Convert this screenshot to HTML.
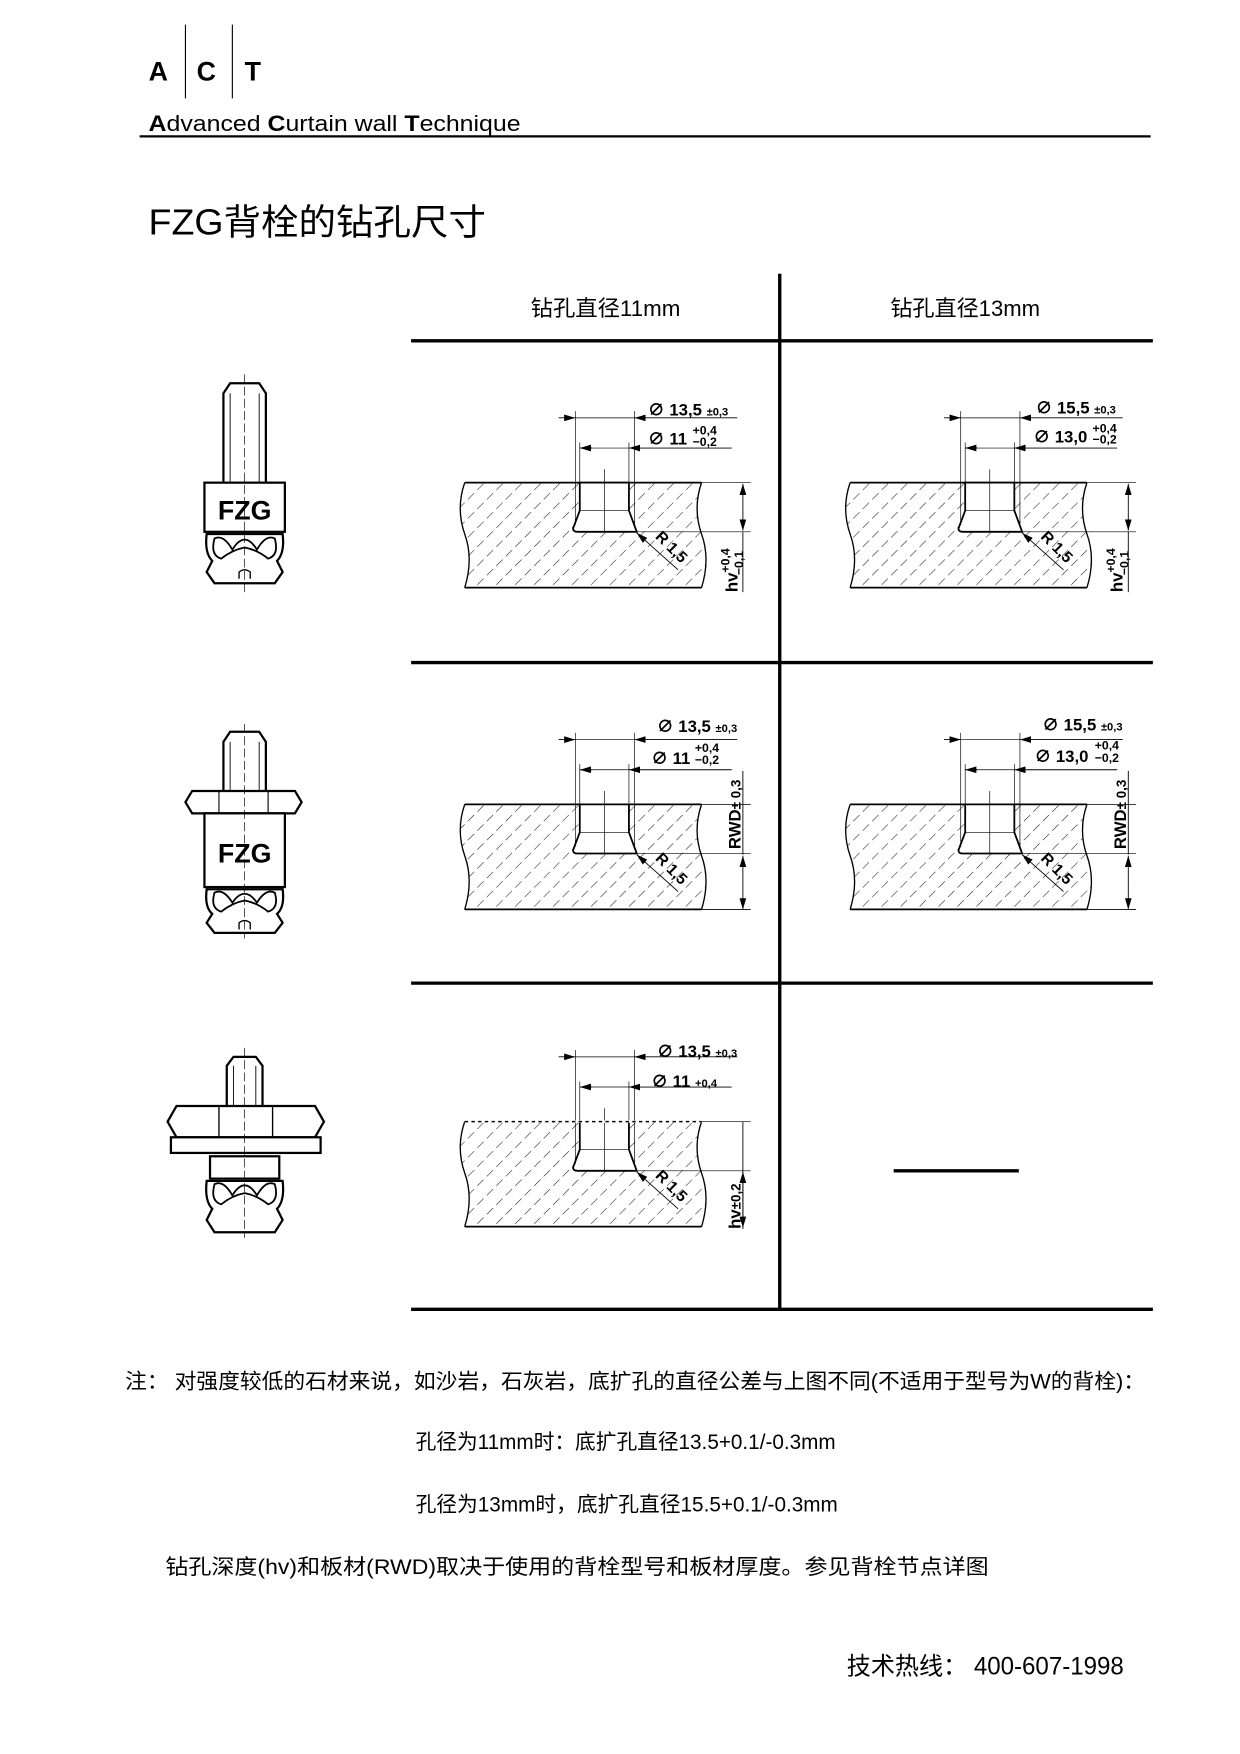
<!DOCTYPE html>
<html><head><meta charset="utf-8"><style>
html,body{margin:0;padding:0;background:#fff;}
svg{display:block;}
text{font-family:"Liberation Sans","Noto Sans CJK SC",sans-serif;}
</style></head><body>
<svg width="1240" height="1754" viewBox="0 0 1110 1570" xmlns="http://www.w3.org/2000/svg">
<defs>
<pattern id="hatch" width="12" height="12" patternUnits="userSpaceOnUse" patternTransform="rotate(45)">
<line x1="0" y1="0" x2="0" y2="8" stroke="#222" stroke-width="1"/>
</pattern>
<marker id="ar" viewBox="0 0 10 6" refX="10" refY="3" markerWidth="10" markerHeight="6" orient="auto" markerUnits="userSpaceOnUse"><path d="M0,0 L10,3 L0,6 Z" fill="#000"/></marker>
<g id="cell">
<path d="M416,432 L628,432 Q620,455 628,478 Q636,500 628,526 L416,526 Q424,500 416,478 Q408,455 416,432 Z" fill="url(#hatch)" stroke="none"/>
<path d="M628,432 Q620,455 628,478 Q636,500 628,526 M416,526 Q424,500 416,478 Q408,455 416,432" fill="none" stroke="#000" stroke-width="1.2"/>
<line x1="416" y1="432" x2="628" y2="432" stroke="#000" stroke-width="1.6"/>
<line x1="416" y1="526" x2="628" y2="526" stroke="#000" stroke-width="1.6"/>
<path d="M519,432 L519,457 L513,473 Q513,476 517,476 L570,476 L563,457 L563,432 Z" fill="#fff" stroke="#000" stroke-width="1.6"/>
<line x1="519" y1="457" x2="563" y2="457" stroke="#000" stroke-width="0.6"/>
<line x1="541" y1="420" x2="541" y2="476" stroke="#000" stroke-width="0.6"/>
<line x1="515" y1="368" x2="515" y2="470" stroke="#000" stroke-width="0.6"/>
<line x1="568" y1="368" x2="568" y2="470" stroke="#000" stroke-width="0.6"/>
<line x1="519" y1="396" x2="519" y2="432" stroke="#000" stroke-width="0.6"/>
<line x1="563" y1="396" x2="563" y2="432" stroke="#000" stroke-width="0.6"/>
<line x1="500" y1="374" x2="515" y2="374" stroke="#000" stroke-width="0.8" marker-end="url(#ar)"/>
<line x1="515" y1="374" x2="568" y2="374" stroke="#000" stroke-width="0.6"/>
<line x1="660" y1="374" x2="568" y2="374" stroke="#000" stroke-width="0.8" marker-end="url(#ar)"/>
<line x1="530" y1="401" x2="519" y2="401" stroke="#000" stroke-width="0.8" marker-end="url(#ar)"/>
<line x1="519" y1="401" x2="563" y2="401" stroke="#000" stroke-width="0.6"/>
<line x1="655" y1="401" x2="563" y2="401" stroke="#000" stroke-width="0.8" marker-end="url(#ar)"/>
<line x1="607" y1="510" x2="570" y2="477" stroke="#000" stroke-width="0.8" marker-end="url(#ar)"/>
<line x1="628" y1="432" x2="672" y2="432" stroke="#000" stroke-width="0.6"/>
<line x1="570" y1="476" x2="672" y2="476" stroke="#000" stroke-width="0.6"/>
<text x="0" y="0" transform="translate(586,481) rotate(45)" font-size="14" font-weight="bold">R 1,5</text>
</g>
</defs>

<text x="133" y="72" font-size="24" font-weight="bold">A</text>
<text x="176" y="72" font-size="24" font-weight="bold">C</text>
<text x="219" y="72" font-size="24" font-weight="bold">T</text>
<line x1="166" y1="22" x2="166" y2="88" stroke="#000" stroke-width="1"/>
<line x1="208" y1="22" x2="208" y2="88" stroke="#000" stroke-width="1"/>
<text x="133" y="117" font-size="20" textLength="333" lengthAdjust="spacingAndGlyphs"><tspan font-weight="bold">A</tspan>dvanced <tspan font-weight="bold">C</tspan>urtain wall <tspan font-weight="bold">T</tspan>echnique</text>
<line x1="125" y1="122" x2="1030" y2="122" stroke="#000" stroke-width="2"/>
<text x="133" y="210" font-size="32" textLength="302" lengthAdjust="spacingAndGlyphs">FZG背栓的钻孔尺寸</text>

<g stroke="#000" stroke-width="3">
<line x1="698" y1="245" x2="698" y2="1172"/>
<line x1="368" y1="305" x2="1032" y2="305"/>
<line x1="368" y1="593" x2="1032" y2="593"/>
<line x1="368" y1="880" x2="1032" y2="880"/>
<line x1="368" y1="1172" x2="1032" y2="1172"/>
</g>
<text x="475" y="283" font-size="20" textLength="134" lengthAdjust="spacingAndGlyphs">钻孔直径11mm</text>
<text x="797" y="283" font-size="20" textLength="134" lengthAdjust="spacingAndGlyphs">钻孔直径13mm</text>
<line x1="800" y1="1048" x2="912" y2="1048" stroke="#000" stroke-width="3"/>

<use href="#cell"/>
<use href="#cell" transform="translate(345,0)"/>
<use href="#cell" transform="translate(0,288)"/>
<use href="#cell" transform="translate(345,288)"/>
<use href="#cell" transform="translate(0,572)"/>

<g font-weight="bold" font-size="15">
<text x="580" y="372">∅ 13,5 <tspan font-size="10">±0,3</tspan></text>
<text x="580" y="398">∅ 11</text><text x="620" y="389" font-size="11">+0,4</text><text x="620" y="399" font-size="11">−0,2</text>
<text x="927" y="370">∅ 15,5 <tspan font-size="10">±0,3</tspan></text>
<text x="925" y="396">∅ 13,0</text><text x="978" y="387" font-size="11">+0,4</text><text x="978" y="397" font-size="11">−0,2</text>
<text x="588" y="655">∅ 13,5 <tspan font-size="10">±0,3</tspan></text>
<text x="583" y="684">∅ 11</text><text x="622" y="673" font-size="11">+0,4</text><text x="622" y="684" font-size="11">−0,2</text>
<text x="933" y="654">∅ 15,5 <tspan font-size="10">±0,3</tspan></text>
<text x="926" y="682">∅ 13,0</text><text x="980" y="671" font-size="11">+0,4</text><text x="980" y="682" font-size="11">−0,2</text>
<text x="588" y="946">∅ 13,5 <tspan font-size="10">±0,3</tspan></text>
<text x="583" y="973">∅ 11 <tspan font-size="10">+0,4</tspan></text>
</g>

<g stroke="#000" stroke-width="0.8" fill="none">
<line x1="665" y1="454" x2="665" y2="433" marker-end="url(#ar)"/>
<line x1="665" y1="454" x2="665" y2="475" marker-end="url(#ar)"/>
<line x1="665" y1="476" x2="665" y2="530"/>
<line x1="1010" y1="454" x2="1010" y2="433" marker-end="url(#ar)"/>
<line x1="1010" y1="454" x2="1010" y2="475" marker-end="url(#ar)"/>
<line x1="1010" y1="476" x2="1010" y2="530"/>
<line x1="665" y1="690" x2="665" y2="765"/>
<line x1="665" y1="790" x2="665" y2="766" marker-end="url(#ar)"/>
<line x1="665" y1="790" x2="665" y2="814" marker-end="url(#ar)"/>
<line x1="628" y1="814" x2="672" y2="814"/>
<line x1="1010" y1="690" x2="1010" y2="765"/>
<line x1="1010" y1="790" x2="1010" y2="766" marker-end="url(#ar)"/>
<line x1="1010" y1="790" x2="1010" y2="814" marker-end="url(#ar)"/>
<line x1="973" y1="814" x2="1017" y2="814"/>
<line x1="665" y1="1004" x2="665" y2="1100"/>
<line x1="665" y1="1074" x2="665" y2="1049" marker-end="url(#ar)"/>
<line x1="665" y1="1074" x2="665" y2="1099" marker-end="url(#ar)"/>
</g>
<line x1="416" y1="1004" x2="628" y2="1004" stroke="#fff" stroke-width="2" />
<line x1="416" y1="1004" x2="628" y2="1004" stroke="#000" stroke-width="1.4" stroke-dasharray="3,3"/>
<g font-weight="bold" font-size="15">
<text transform="translate(660,530) rotate(-90)">hv<tspan font-size="11" dy="-7">+0,4</tspan><tspan font-size="11" dx="-24" dy="12">−0,1</tspan></text>
<text transform="translate(1005,530) rotate(-90)">hv<tspan font-size="11" dy="-7">+0,4</tspan><tspan font-size="11" dx="-24" dy="12">−0,1</tspan></text>
<text transform="translate(663,760) rotate(-90)">RWD<tspan font-size="12">± 0,3</tspan></text>
<text transform="translate(1008,760) rotate(-90)">RWD<tspan font-size="12">± 0,3</tspan></text>
<text transform="translate(663,1100) rotate(-90)">hv<tspan font-size="12">±0,2</tspan></text>
</g>

<g stroke="#000" stroke-width="2" fill="#fff">
<path d="M200,432 L200,352 L206,343 L232,343 L238,352 L238,432"/>
<line x1="206" y1="352" x2="206" y2="432" stroke-width="0.8"/>
<line x1="232" y1="352" x2="232" y2="432" stroke-width="0.8"/>
<rect x="183" y="432" width="72" height="44"/>
<path d="M185,478 Q183,495 190,502 L185,512 L192,522 L246,522 L253,512 L248,502 Q255,495 253,478 Z"/>
<path d="M192,482 Q200,478 208,492 Q219,474 230,492 Q238,478 246,482 Q250,497 240,500 Q230,492 219,490 Q208,492 198,500 Q188,497 192,482 Z" stroke-width="1.6"/>
<path d="M214,518 L214,512 Q219,508 224,512 L224,518" stroke-width="1.2"/>
<path d="M200,710 L200,664 L206,655 L232,655 L238,664 L238,710"/>
<line x1="206" y1="664" x2="206" y2="710" stroke-width="0.8"/>
<line x1="232" y1="664" x2="232" y2="710" stroke-width="0.8"/>
<path d="M172,708 L264,708 L270,718 L264,728 L172,728 L166,718 Z"/>
<line x1="196" y1="708" x2="196" y2="728" stroke-width="1"/>
<line x1="240" y1="708" x2="240" y2="728" stroke-width="1"/>
<rect x="183" y="728" width="72" height="66"/>
<path d="M185,796 Q183,812 190,818 L185,826 L192,835 L246,835 L253,826 L248,818 Q255,812 253,796 Z"/>
<path d="M192,799 Q200,795 208,808 Q219,792 230,808 Q238,795 246,799 Q250,813 240,816 Q230,808 219,806 Q208,808 198,816 Q188,813 192,799 Z" stroke-width="1.6"/>
<path d="M214,832 L214,826 Q219,822 224,826 L224,832" stroke-width="1.2"/>
<path d="M203,990 L203,954 L209,946 L229,946 L235,954 L235,990"/>
<line x1="209" y1="954" x2="209" y2="990" stroke-width="0.8"/>
<line x1="229" y1="954" x2="229" y2="990" stroke-width="0.8"/>
<path d="M158,990 L282,990 L290,1004 L282,1018 L158,1018 L150,1004 Z"/>
<line x1="196" y1="990" x2="196" y2="1018" stroke-width="1.2"/>
<line x1="244" y1="990" x2="244" y2="1018" stroke-width="1.2"/>
<rect x="153" y="1018" width="134" height="14"/>
<rect x="188" y="1035" width="62" height="20"/>
<path d="M185,1057 Q183,1075 190,1082 L185,1092 L192,1103 L246,1103 L253,1092 L248,1082 Q255,1075 253,1057 Z"/>
<path d="M192,1060 Q200,1056 208,1070 Q219,1052 230,1070 Q238,1056 246,1060 Q250,1075 240,1078 Q230,1070 219,1068 Q208,1070 198,1078 Q188,1075 192,1060 Z" stroke-width="1.6"/>
</g>
<g stroke="#000" stroke-width="0.6" stroke-dasharray="8,3">
<line x1="219" y1="335" x2="219" y2="530"/>
<line x1="219" y1="648" x2="219" y2="840"/>
<line x1="219" y1="938" x2="219" y2="1108"/>
</g>
<text x="219" y="465" font-size="24" font-weight="bold" text-anchor="middle">FZG</text>
<text x="219" y="772" font-size="24" font-weight="bold" text-anchor="middle">FZG</text>

<text x="112" y="1243" font-size="19" textLength="913" lengthAdjust="spacingAndGlyphs">注：  对强度较低的石材来说，如沙岩，石灰岩，底扩孔的直径公差与上图不同(不适用于型号为W的背栓)：</text>
<text x="372" y="1297" font-size="19" textLength="376" lengthAdjust="spacingAndGlyphs">孔径为11mm时：底扩孔直径13.5+0.1/-0.3mm</text>
<text x="372" y="1353" font-size="19" textLength="378" lengthAdjust="spacingAndGlyphs">孔径为13mm时，底扩孔直径15.5+0.1/-0.3mm</text>
<text x="148" y="1409" font-size="19" textLength="737" lengthAdjust="spacingAndGlyphs">钻孔深度(hv)和板材(RWD)取决于使用的背栓型号和板材厚度。参见背栓节点详图</text>
<text x="758" y="1499" font-size="22" textLength="248" lengthAdjust="spacingAndGlyphs">技术热线：  400-607-1998</text>
</svg>
</body></html>
